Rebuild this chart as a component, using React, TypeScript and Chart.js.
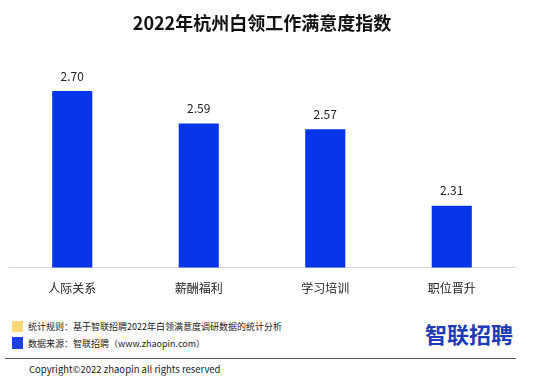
import React, { useEffect, useRef } from "react";
import { Chart, registerables } from "chart.js";

Chart.register(...registerables);

const categories = ["人际关系", "薪酬福利", "学习培训", "职位晋升"];
const values = [2.7, 2.59, 2.57, 2.31];
const titleText = "2022年杭州白领工作满意度指数";
const note1 = "统计规则：基于智联招聘2022年白领满意度调研数据的统计分析";
const note2 = "数据来源：智联招聘（www.zhaopin.com）";
const copyright = "Copyright©2022 zhaopin all rights reserved";
const logoText = "智联招聘";

const FONT = "'Noto Sans CJK SC', 'Noto Sans', sans-serif";

const valueLabels = {
  id: "valueLabels",
  afterDatasetsDraw(chart: any) {
    const ctx = chart.ctx;
    const meta = chart.getDatasetMeta(0);
    ctx.save();
    ctx.font = `12px ${FONT}`;
    ctx.fillStyle = "#222";
    ctx.textAlign = "center";
    ctx.textBaseline = "middle";
    meta.data.forEach((el: any, i: number) => {
      ctx.fillText(values[i].toFixed(2), el.x, el.y - 15);
    });
    ctx.restore();
  },
};

export default function App() {
  const ref = useRef<HTMLCanvasElement>(null);
  useEffect(() => {
    document.body.style.margin = "0";
    const chart = new Chart(ref.current!, {
      type: "bar",
      data: {
        labels: categories,
        datasets: [
          {
            data: values,
            backgroundColor: "#0736ea",
            barPercentage: 0.317,
            categoryPercentage: 1,
          },
        ],
      },
      options: {
        animation: false,
        responsive: false,
        layout: { padding: { left: 9, right: 18, top: 0, bottom: 4 } },
        plugins: {
          legend: { display: false },
          tooltip: { enabled: false },
          title: {
            display: true,
            text: titleText,
            color: "#111",
            font: { family: FONT, size: 18, weight: "bold" },
            padding: { top: 12, bottom: 28 },
          },
        },
        scales: {
          x: {
            grid: { display: false, drawTicks: false },
            border: { display: true, color: "#d9d9d9", width: 1 },
            ticks: { color: "#222", padding: 14, font: { family: FONT, size: 12 } },
          },
          y: { display: false, min: 2.1, max: 2.8 },
        },
      },
      plugins: [valueLabels],
    });
    return () => chart.destroy();
  }, []);

  const small: React.CSSProperties = {
    position: "absolute",
    fontFamily: FONT,
    fontSize: 9,
    color: "#222",
    whiteSpace: "nowrap",
    lineHeight: "12px",
  };

  return (
    <div style={{ position: "relative", width: 533, height: 385, background: "#fff", overflow: "hidden" }}>
      <canvas ref={ref} width={533} height={314} style={{ position: "absolute", left: 0, top: 0, width: 533, height: 314 }} />
      <div style={{ position: "absolute", left: 12, top: 321, width: 11, height: 11, background: "#fcd975" }} />
      <div style={{ position: "absolute", left: 12, top: 337, width: 11, height: 12, background: "#1f3fe0" }} />
      <div style={{ ...small, left: 28, top: 321 }}>{note1}</div>
      <div style={{ ...small, left: 28, top: 338 }}>{note2}</div>
      <div
        style={{
          position: "absolute",
          left: 425,
          top: 317,
          fontFamily: FONT,
          fontSize: 22,
          fontWeight: "bold",
          color: "#1d3bb5",
          lineHeight: "32px",
          whiteSpace: "nowrap",
        }}
      >
        {logoText}
      </div>
      <div style={{ position: "absolute", left: 5, top: 358, width: 511, height: 1, background: "#555" }} />
      <div style={{ ...small, fontSize: 9.5, left: 29, top: 363 }}>{copyright}</div>
    </div>
  );
}
